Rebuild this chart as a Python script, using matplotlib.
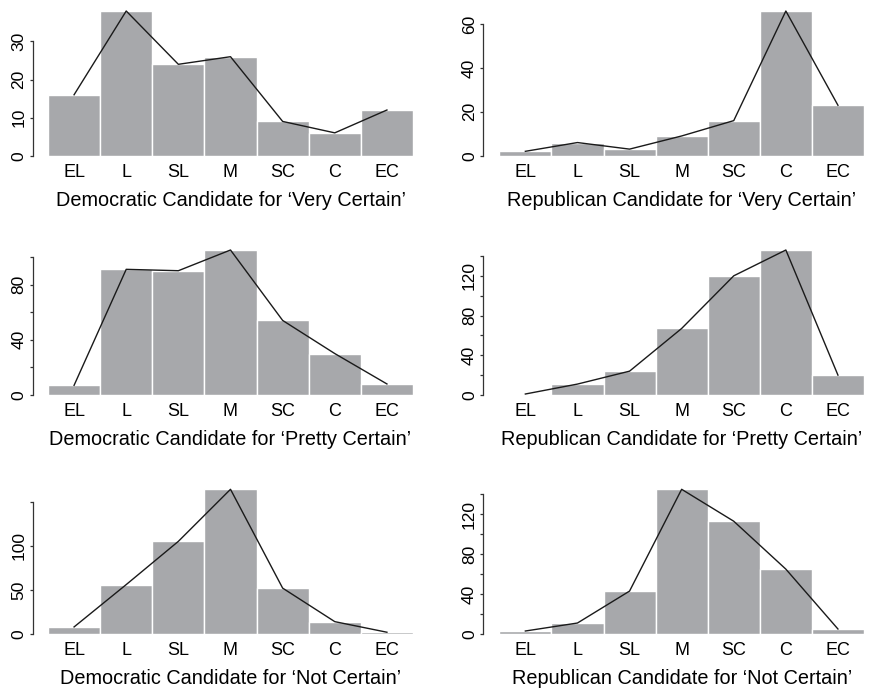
import matplotlib
matplotlib.use("Agg")
import matplotlib.pyplot as plt

plt.rcParams['font.family'] = ['Liberation Sans', 'DejaVu Sans']

categories = ['EL', 'L', 'SL', 'M', 'SC', 'C', 'EC']

dem_very = [16, 38, 24, 26, 9, 6, 12]
rep_very = [2, 6, 3, 9, 16, 66, 23]
dem_pretty = [7, 91, 90, 105, 54, 30, 8]
rep_pretty = [1, 11, 24, 67, 120, 146, 20]
dem_not = [8, 56, 105, 164, 52, 14, 2]
rep_not = [3, 11, 43, 145, 113, 65, 5]

titles = [
    "Democratic Candidate for \u2018Very Certain\u2019",
    "Republican Candidate for \u2018Very Certain\u2019",
    "Democratic Candidate for \u2018Pretty Certain\u2019",
    "Republican Candidate for \u2018Pretty Certain\u2019",
    "Democratic Candidate for \u2018Not Certain\u2019",
    "Republican Candidate for \u2018Not Certain\u2019",
]

# y ticks and which of them carry a label (R drops overlapping ones)
yticks = [
    [0, 10, 20, 30],
    [0, 20, 40, 60],
    [0, 20, 40, 60, 80, 100],
    [0, 20, 40, 60, 80, 100, 120, 140],
    [0, 50, 100, 150],
    [0, 20, 40, 60, 80, 100, 120, 140],
]
ylabels = [
    ['0', '10', '20', '30'],
    ['0', '20', '40', '60'],
    ['0', '', '40', '', '80', ''],
    ['0', '', '40', '', '80', '', '120', ''],
    ['0', '50', '100', ''],
    ['0', '', '40', '', '80', '', '120', ''],
]

series = [dem_very, rep_very, dem_pretty, rep_pretty, dem_not, rep_not]

W, H = 876, 690
fig = plt.figure(figsize=(W / 100, H / 100), dpi=100)

col_left = [48, 499.3]
col_width = [365, 364.7]
row_base = [155.7, 395, 634]
row_height = [144.7, 145, 144.7]
spine_off = [11, 11.5]

bar_col = '#a7a8ab'
x = list(range(len(categories)))

for i, vals in enumerate(series):
    r, c = divmod(i, 2)
    ax = fig.add_axes([col_left[c] / W, 1 - row_base[r] / H,
                       col_width[c] / W, row_height[r] / H])
    ax.bar(x, vals, width=1.0, color=bar_col, edgecolor='white', linewidth=1.0)
    ax.plot(x, vals, color='#1a1a1a', linewidth=1.0, clip_on=False, zorder=3)
    ax.set_xlim(-0.5, 6.5)
    ax.set_ylim(0, max(vals))

    for s in ['top', 'right', 'bottom']:
        ax.spines[s].set_visible(False)
    ax.spines['left'].set_position(('outward', spine_off[c]))
    ax.spines['left'].set_bounds(yticks[i][0], yticks[i][-1])
    ax.spines['left'].set_color('#333333')
    ax.spines['left'].set_linewidth(0.9)

    ax.set_yticks(yticks[i])
    ax.set_yticklabels(ylabels[i], rotation=90, va='center')
    ax.tick_params(axis='y', length=2.5, width=0.9, color='#333333',
                   labelsize=12.5, pad=2)
    ax.set_xticks(x)
    ax.set_xticklabels(categories)
    ax.tick_params(axis='x', length=0, labelsize=13, pad=6)
    ax.set_xlabel(titles[i], fontsize=14.3, labelpad=7)

fig.savefig('out.png', dpi=100)
